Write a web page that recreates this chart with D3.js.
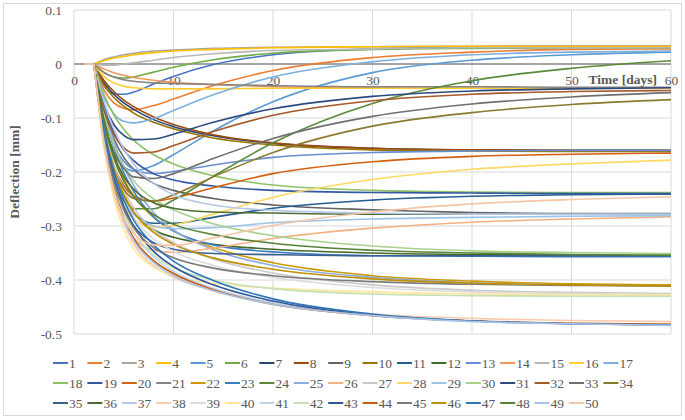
<!DOCTYPE html>
<html>
<head>
<meta charset="utf-8">
<script src="https://cdn.jsdelivr.net/npm/d3@7"></script>
<style>
  body { margin: 0; background: #fff; }
  svg text { font-family: "Liberation Serif", "Times New Roman", Times, serif !important; fill: #595959; }
</style>
</head>
<body>
<div id="chart"></div>
<script>
const width = 685;
const height = 420;

// time axis of every series [days]
const days = [1, 2, 3, 4, 5, 6, 8, 10, 14, 20, 30, 40, 50, 60];

const seriesNames = ["1", "2", "3", "4", "5", "6", "7", "8", "9", "10",
  "11", "12", "13", "14", "15", "16", "17", "18", "19", "20",
  "21", "22", "23", "24", "25", "26", "27", "28", "29", "30",
  "31", "32", "33", "34", "35", "36", "37", "38", "39", "40",
  "41", "42", "43", "44", "45", "46", "47", "48", "49", "50"];

const colors = [
  "#4472C4", "#ED7D31", "#A5A5A5", "#FFC000", "#5B9BD5", "#70AD47",
  "#264478", "#9E480E", "#636363", "#997300", "#255E91", "#43682B",
  "#698ED0", "#F1975A", "#B7B7B7", "#FFCD33", "#7CAFDD", "#8CC168",
  "#335AA1", "#D26012", "#848484", "#CC9A00", "#3C7DC4", "#5A8A39",
  "#8FAADC", "#F4B183", "#C9C9C9", "#FFD966", "#9DC3E6", "#A9D18E",
  "#2E4A7D", "#A55A2A", "#707070", "#8B7A30", "#3A5F8F", "#4F6B33",
  "#B4C7E7", "#F8CBAD", "#DBDBDB", "#FFE699", "#BDD7EE", "#C5E0B4",
  "#2F5597", "#C55A11", "#7B7B7B", "#BF9000", "#2E75B6", "#548235",
  "#A9C4E8", "#F5C6A5"
];

const xTicks = [0, 10, 20, 30, 40, 50, 60];
const yTicks = [0.1, 0, -0.1, -0.2, -0.3, -0.4, -0.5];
const yTickLabels = ["0.1", "0", "-0.1", "-0.2", "-0.3", "-0.4", "-0.5"];

// deflection [mm] of series 1..50, one row per series, at the days above
const deflection = [
  [0, 0, -.040, -.055, -.056, -.052, -.037, -.023, -.001, .017, .028, .032, .033, .033],   // 1
  [0, 0, -.048, -.072, -.082, -.085, -.077, -.065, -.040, -.012, .012, .022, .027, .028],   // 2
  [0, 0, .008, .013, .017, .020, .024, .026, .029, .031, .032, .033, .033, .033],           // 3
  [0, 0, .006, .011, .014, .017, .021, .024, .027, .030, .032, .033, .033, .033],           // 4
  [0, 0, -.110, -.165, -.190, -.198, -.188, -.168, -.124, -.070, -.016, .007, .017, .022],  // 5
  [0, 0, -.015, -.024, -.026, -.024, -.015, -.006, .008, .020, .027, .029, .030, .030],     // 6
  [0, 0, -.034, -.056, -.072, -.084, -.103, -.116, -.133, -.147, -.156, -.159, -.160, -.160], // 7
  [0, 0, -.030, -.051, -.067, -.079, -.098, -.112, -.131, -.146, -.156, -.159, -.160, -.160], // 8
  [0, 0, -.085, -.138, -.173, -.195, -.221, -.234, -.249, -.261, -.270, -.275, -.277, -.277], // 9
  [0, 0, -.038, -.062, -.078, -.091, -.108, -.120, -.137, -.150, -.159, -.161, -.162, -.162], // 10
  [0, 0, -.132, -.209, -.253, -.277, -.295, -.295, -.284, -.267, -.252, -.245, -.242, -.241], // 11
  [0, 0, -.122, -.198, -.245, -.275, -.307, -.321, -.334, -.343, -.350, -.353, -.354, -.355], // 12
  [0, 0, -.096, -.151, -.180, -.195, -.203, -.199, -.187, -.173, -.164, -.161, -.160, -.160], // 13
  [0, 0, -.009, -.016, -.021, -.025, -.030, -.034, -.038, -.042, -.044, -.045, -.045, -.045], // 14
  [0, 0, -.002, -.002, .000, .002, .007, .012, .019, .025, .028, .030, .030, .030],         // 15
  [0, 0, -.023, -.035, -.041, -.044, -.046, -.046, -.046, -.045, -.045, -.045, -.045, -.045], // 16
  [0, 0, -.061, -.092, -.106, -.109, -.101, -.086, -.057, -.024, .004, .017, .022, .024],   // 17
  [0, 0, -.056, -.094, -.121, -.141, -.168, -.185, -.207, -.224, -.234, -.237, -.238, -.238], // 18
  [0, 0, -.078, -.127, -.159, -.179, -.203, -.215, -.226, -.234, -.238, -.239, -.240, -.240], // 19
  [0, 0, -.120, -.188, -.225, -.244, -.254, -.248, -.229, -.203, -.181, -.171, -.167, -.165], // 20
  [0, 0, -.016, -.024, -.029, -.032, -.035, -.036, -.038, -.040, -.042, -.042, -.043, -.043], // 21
  [0, 0, -.102, -.168, -.213, -.244, -.284, -.309, -.340, -.368, -.392, -.402, -.407, -.409], // 22
  [0, 0, -.088, -.153, -.201, -.236, -.283, -.309, -.335, -.348, -.355, -.356, -.357, -.357], // 23
  [0, 0, -.140, -.215, -.252, -.268, -.268, -.252, -.208, -.146, -.073, -.031, -.008, .006],  // 24
  [0, 0, -.082, -.143, -.190, -.225, -.275, -.307, -.344, -.373, -.395, -.405, -.409, -.411], // 25
  [0, 0, -.150, -.240, -.292, -.322, -.345, -.349, -.341, -.323, -.304, -.293, -.287, -.283], // 26
  [0, 0, -.112, -.185, -.233, -.266, -.307, -.331, -.361, -.387, -.409, -.419, -.423, -.425], // 27
  [0, 0, -.138, -.218, -.263, -.287, -.302, -.298, -.278, -.247, -.214, -.195, -.185, -.178], // 28
  [0, 0, -.129, -.206, -.251, -.277, -.300, -.305, -.303, -.294, -.287, -.284, -.282, -.281], // 29
  [0, 0, -.091, -.150, -.189, -.216, -.250, -.270, -.296, -.318, -.337, -.346, -.349, -.351], // 30
  [0, 0, -.072, -.112, -.132, -.140, -.139, -.130, -.108, -.083, -.060, -.050, -.046, -.044], // 31
  [0, 0, -.085, -.131, -.155, -.165, -.163, -.151, -.125, -.095, -.068, -.056, -.051, -.049], // 32
  [0, 0, -.104, -.163, -.193, -.209, -.212, -.203, -.175, -.138, -.097, -.074, -.061, -.053], // 33
  [0, 0, -.125, -.195, -.232, -.249, -.254, -.242, -.209, -.164, -.115, -.090, -.075, -.066], // 34
  [0, 0, -.135, -.218, -.269, -.300, -.331, -.343, -.351, -.353, -.355, -.355, -.355, -.355], // 35
  [0, 0, -.104, -.168, -.208, -.232, -.257, -.267, -.274, -.276, -.278, -.278, -.278, -.278], // 36
  [0, 0, -.069, -.120, -.157, -.185, -.221, -.242, -.261, -.271, -.276, -.278, -.278, -.278], // 37
  [0, 0, -.145, -.236, -.294, -.333, -.374, -.395, -.420, -.443, -.463, -.471, -.475, -.477], // 38
  [0, 0, -.122, -.200, -.250, -.284, -.324, -.347, -.373, -.395, -.414, -.422, -.425, -.427], // 39
  [0, 0, -.153, -.248, -.306, -.342, -.376, -.392, -.406, -.415, -.422, -.426, -.427, -.428], // 40
  [0, 0, -.133, -.218, -.273, -.312, -.357, -.384, -.415, -.442, -.465, -.475, -.480, -.482], // 41
  [0, 0, -.133, -.219, -.274, -.311, -.354, -.377, -.400, -.416, -.426, -.429, -.430, -.430], // 42
  [0, 0, -.126, -.209, -.263, -.300, -.347, -.375, -.409, -.439, -.465, -.476, -.481, -.483], // 43
  [0, 0, -.139, -.227, -.285, -.323, -.364, -.388, -.418, -.445, -.466, -.476, -.480, -.482], // 44
  [0, 0, -.133, -.216, -.269, -.303, -.340, -.359, -.378, -.392, -.403, -.408, -.410, -.411], // 45
  [0, 0, -.118, -.193, -.241, -.274, -.312, -.334, -.359, -.380, -.398, -.406, -.409, -.411], // 46
  [0, 0, -.120, -.199, -.252, -.289, -.335, -.365, -.401, -.435, -.463, -.476, -.481, -.483], // 47
  [0, 0, -.107, -.174, -.217, -.246, -.279, -.297, -.316, -.332, -.345, -.350, -.353, -.354], // 48
  [0, 0, -.142, -.232, -.289, -.327, -.368, -.392, -.420, -.445, -.466, -.477, -.481, -.484], // 49
  [0, 0, -.148, -.236, -.286, -.314, -.335, -.336, -.322, -.299, -.274, -.259, -.251, -.246]  // 50
];

const svg = d3.select("#chart")
    .append("svg")
    .attr("width", width)
    .attr("height", height)
    .attr("font-family", "Liberation Serif, serif");

svg.append("rect")
    .attr("x", 3.5).attr("y", 3.5)
    .attr("width", 678).attr("height", 412)
    .attr("fill", "#fff")
    .attr("stroke", "#d9d9d9");

const x = d3.scaleLinear().domain([0, 60]).range([74, 671]);
const y = d3.scaleLinear().domain([-0.5, 0.1]).range([334, 10]);

// gridlines
svg.append("g")
    .selectAll("line")
    .data(yTicks.filter(d => d !== 0))
    .join("line")
    .attr("x1", x(0)).attr("x2", x(60))
    .attr("y1", d => y(d)).attr("y2", d => y(d))
    .attr("stroke", "#d9d9d9").attr("stroke-width", 1);

svg.append("g")
    .selectAll("line")
    .data(xTicks)
    .join("line")
    .attr("x1", d => x(d)).attr("x2", d => x(d))
    .attr("y1", y(0.1)).attr("y2", y(-0.5))
    .attr("stroke", "#d9d9d9").attr("stroke-width", 1);

// horizontal axis sits on y = 0
svg.append("line")
    .attr("x1", x(0)).attr("x2", x(60))
    .attr("y1", y(0)).attr("y2", y(0))
    .attr("stroke", "#868686").attr("stroke-width", 1.3);

const yAxis = d3.axisLeft(y)
    .tickValues(yTicks)
    .tickSize(0)
    .tickPadding(12)
    .tickFormat((d, i) => yTickLabels[i]);

svg.append("g")
    .attr("transform", `translate(${x(0)},0)`)
    .call(yAxis)
    .attr("font-family", null)
    .attr("font-size", 13.5)
    .call(g => g.select(".domain").remove());

const xAxis = d3.axisBottom(x)
    .tickValues(xTicks)
    .tickSize(0)
    .tickPadding(11)
    .tickFormat(d => d);

svg.append("g")
    .attr("transform", `translate(0,${y(0)})`)
    .call(xAxis)
    .attr("font-family", null)
    .attr("font-size", 13.5)
    .call(g => g.select(".domain").remove());

// series
const line = d3.line()
    .x(d => x(d[0]))
    .y(d => y(d[1]))
    .curve(d3.curveMonotoneX);

const flat = d3.line()
    .x(d => x(d[0]))
    .y(d => y(d[1]));

const series = deflection.map((vals, i) => ({
    name: seriesNames[i],
    color: colors[i],
    points: days.map((t, j) => [t, vals[j]])
}));

const lines = svg.append("g").attr("fill", "none");
series.forEach(s => {
    lines.append("path")
        .attr("d", flat(s.points.slice(0, 2)))
        .attr("stroke", s.color)
        .attr("stroke-width", 1.6);
    lines.append("path")
        .attr("d", line(s.points.slice(1)))
        .attr("stroke", s.color)
        .attr("stroke-width", 1.6);
});

// axis titles
svg.append("text")
    .attr("x", 657)
    .attr("y", 84)
    .attr("text-anchor", "end")
    .attr("font-size", 13.5)
    .attr("font-weight", "bold")
    .text("Time [days]");

svg.append("text")
    .attr("transform", `translate(19,${(y(0.1) + y(-0.5)) / 2}) rotate(-90)`)
    .attr("text-anchor", "middle")
    .attr("font-size", 13.5)
    .attr("font-weight", "bold")
    .text("Deflection [mm]");

// legend
const legend = svg.append("g")
    .selectAll("g")
    .data(series)
    .join("g")
    .attr("transform", (d, i) => `translate(${53 + (i % 17) * 34.4},${363 + Math.floor(i / 17) * 20})`);

legend.append("line")
    .attr("x1", 0).attr("x2", 15)
    .attr("stroke", d => d.color)
    .attr("stroke-width", 2);

legend.append("text")
    .attr("x", 16)
    .attr("dy", "0.35em")
    .attr("font-size", 13.5)
    .text(d => d.name);
</script>
</body>
</html>
